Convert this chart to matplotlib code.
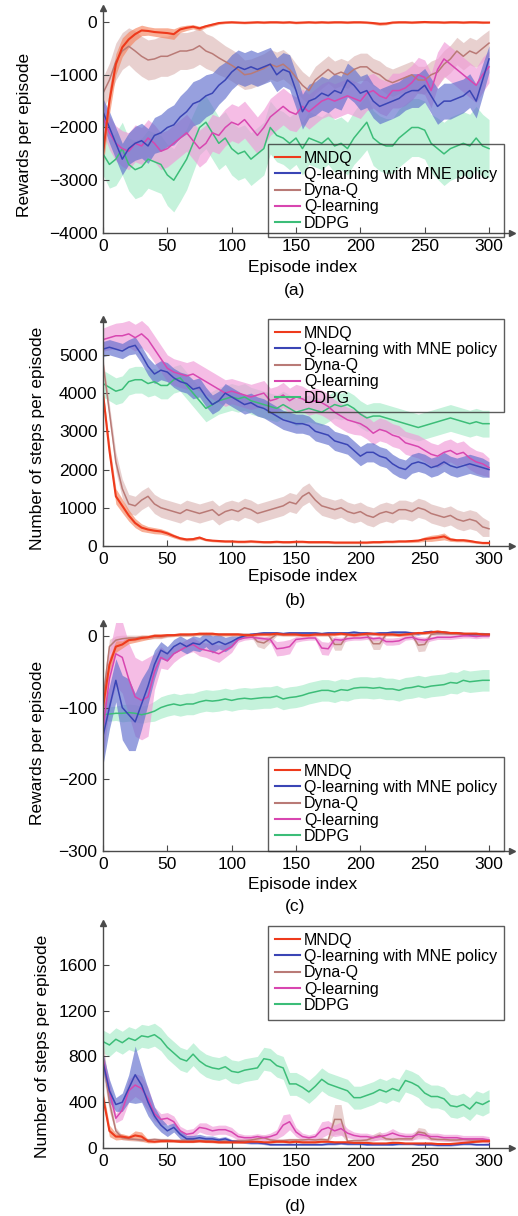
import matplotlib
matplotlib.use('Agg')
import matplotlib.pyplot as plt
import numpy as np

plt.rcParams['font.family'] = ['Liberation Sans', 'DejaVu Sans']

episodes = list(range(0, 301, 5))
labels = ['MNDQ', 'Q-learning with MNE policy', 'Dyna-Q', 'Q-learning', 'DDPG']

# ---- (a) rewards per episode, first task ----
a_mndq = [-2500, -1500, -800, -480, -330, -230, -160, -170, -190, -200,
          -210, -230, -140, -110, -90, -120, -80, -50, -20, -10,
          -5, -10, -15, -10, -5, -10, -5, -5, -10, -5,
          -15, -10, -5, -10, -5, -10, -5, -5, -10, -5,
          -5, -10, -20, -35, -30, -10, -5, -5, -10, -5,
          0, -5, -5, -10, -5, -5, -10, -5, -5, -10,
          -10]
a_mndq_sd = [250, 250, 200, 180, 150, 120, 100, 80, 80, 90,
             100, 100, 60, 50, 40, 40, 30, 30, 25, 20,
             20, 20, 20, 20, 20, 20, 20, 20, 20, 20,
             20, 20, 20, 20, 20, 20, 20, 20, 20, 20,
             20, 20, 25, 30, 25, 20, 20, 20, 20, 20,
             20, 20, 20, 20, 20, 20, 20, 20, 20, 20,
             15]
a_mne = [-1700, -2000, -2300, -2600, -2400, -2300, -2250, -2350, -2150, -2100,
         -2000, -1950, -1800, -1700, -1550, -1500, -1400, -1350, -1200, -1100,
         -950, -850, -900, -850, -900, -850, -800, -1000, -900, -950,
         -1300, -1700, -1500, -1450, -1350, -1400, -1300, -1350, -1100, -1200,
         -1350, -1300, -1500, -1600, -1550, -1500, -1450, -1350, -1300, -1300,
         -1200, -1400, -1600, -1500, -1500, -1450, -1400, -1300, -1500, -1100,
         -700]
a_mne_sd = [250, 300, 300, 300, 300, 320, 330, 330, 340, 350,
            360, 380, 400, 420, 420, 420, 400, 380, 360, 340,
            330, 320, 320, 320, 320, 320, 320, 320, 320, 330,
            330, 330, 320, 320, 320, 320, 320, 320, 320, 320,
            320, 320, 320, 330, 330, 330, 320, 320, 320, 320,
            320, 330, 340, 340, 340, 330, 320, 320, 320, 300,
            250]
a_dyna = [-1350, -1100, -750, -550, -460, -550, -650, -720, -700, -650,
          -650, -600, -550, -550, -520, -450, -550, -600, -680, -750,
          -820, -900, -1000, -980, -930, -880, -800, -850, -800, -900,
          -1050, -1200, -1300, -1100, -1000, -900, -1000, -950, -1000, -900,
          -850, -850, -950, -1000, -1100, -1150, -1100, -1050, -1000, -1100,
          -1100, -1000, -950, -800, -700, -550, -650, -550, -600, -500,
          -400]
a_dyna_sd = [300, 320, 350, 350, 350, 380, 380, 380, 380, 380,
             380, 380, 350, 350, 350, 350, 330, 330, 320, 300,
             300, 300, 280, 280, 280, 280, 280, 280, 280, 280,
             260, 260, 260, 260, 260, 260, 260, 260, 260, 260,
             260, 260, 260, 260, 260, 260, 260, 260, 260, 260,
             260, 260, 260, 260, 260, 260, 260, 260, 260, 260,
             250]
a_ql = [-1800, -2100, -2300, -2400, -2450, -2300, -2350, -2200, -2300, -2450,
        -2400, -2300, -2200, -2100, -2250, -2400, -2300, -2100, -2150, -2000,
        -1900, -1950, -1850, -2000, -2150, -2000, -1800, -1700, -1600, -1700,
        -1750, -1600, -1700, -1600, -1500, -1450, -1500, -1450, -1400, -1450,
        -1500, -1350, -1300, -1400, -1450, -1300, -1300, -1250, -1150, -1000,
        -1050, -1300, -900, -700, -800, -900, -1000, -1100, -1200, -1000,
        -850]
a_ql_sd = [300, 320, 330, 340, 350, 350, 350, 350, 350, 350,
           350, 350, 350, 350, 350, 350, 350, 350, 350, 350,
           350, 350, 350, 350, 350, 350, 350, 350, 350, 350,
           330, 330, 330, 330, 330, 330, 330, 330, 330, 330,
           330, 330, 330, 330, 330, 330, 330, 330, 330, 330,
           330, 330, 330, 330, 330, 330, 330, 330, 330, 330,
           300]
a_ddpg = [-2500, -2700, -2600, -2400, -2700, -2800, -2750, -2600, -2650, -2700,
          -2900, -3000, -2800, -2600, -2300, -2000, -1900, -2100, -2300, -2200,
          -2400, -2500, -2450, -2600, -2500, -2400, -2000, -2150, -2200, -2300,
          -2200, -2400, -2200, -2250, -2300, -2200, -2350, -2300, -2400, -2200,
          -2050, -1900, -2200, -2300, -2350, -2350, -2200, -2100, -2000, -2000,
          -2050, -2300, -2400, -2500, -2400, -2350, -2300, -2350, -2200, -2350,
          -2400]
a_ddpg_sd = [400, 450, 500, 500, 500, 550, 550, 550, 550, 550,
             580, 600, 600, 580, 550, 520, 500, 500, 500, 500,
             500, 500, 500, 500, 500, 500, 500, 500, 500, 500,
             500, 500, 500, 500, 500, 500, 500, 500, 500, 500,
             520, 520, 520, 520, 520, 520, 550, 550, 550, 550,
             550, 550, 580, 600, 600, 600, 600, 600, 600, 600,
             550]

# ---- (b) steps per episode, first task ----
b_mndq = [4000, 2500, 1300, 1050, 800, 600, 480, 430, 400, 380,
          330, 260, 200, 170, 180, 220, 160, 140, 130, 120,
          120, 110, 110, 120, 110, 100, 100, 110, 100, 100,
          110, 110, 100, 100, 100, 100, 90, 90, 90, 90,
          90, 90, 100, 100, 110, 110, 120, 120, 130, 140,
          180, 200, 220, 250, 170, 150, 150, 130, 100, 80,
          80]
b_mndq_sd = [100, 200, 200, 180, 150, 120, 100, 80, 80, 70,
             60, 50, 40, 40, 40, 40, 30, 30, 30, 30,
             30, 30, 30, 30, 30, 30, 30, 30, 30, 30,
             30, 30, 30, 30, 30, 30, 30, 30, 30, 30,
             30, 30, 30, 30, 30, 30, 30, 30, 40, 40,
             60, 80, 80, 90, 50, 40, 40, 40, 30, 30,
             30]
b_mne = [5150, 5200, 5150, 5100, 5200, 5250, 5000, 4700, 4500, 4600,
         4550, 4400, 4300, 4250, 4100, 4150, 3900, 3700, 3800, 4000,
         3900, 3800, 3700, 3750, 3650, 3600, 3500, 3400, 3300, 3250,
         3200, 3200, 3150, 3000, 2950, 2900, 2750, 2700, 2650, 2500,
         2350, 2450, 2450, 2350, 2300, 2150, 2050, 2000, 2150, 2200,
         2150, 2050, 2100, 2200, 2100, 2050, 2100, 2150, 2100, 2050,
         2000]
b_mne_sd = [200, 200, 200, 200, 200, 220, 220, 230, 250, 250,
            250, 250, 250, 250, 250, 250, 250, 250, 250, 250,
            250, 250, 250, 250, 250, 250, 250, 250, 250, 250,
            250, 250, 250, 250, 250, 250, 250, 250, 250, 250,
            250, 250, 250, 250, 250, 250, 250, 250, 250, 250,
            250, 250, 250, 250, 250, 250, 250, 250, 250, 250,
            200]
b_dyna = [4800, 3500, 2200, 1500, 1100, 1050, 1200, 1300, 1100, 1000,
          950, 900, 850, 950, 900, 850, 900, 950, 800, 900,
          950, 900, 1000, 950, 850, 900, 950, 1000, 1050, 1150,
          1100, 1300, 1400, 1200, 1050, 1000, 950, 1000, 900, 850,
          900, 800, 750, 850, 900, 850, 950, 950, 900, 1000,
          950, 850, 800, 750, 800, 700, 650, 700, 650, 500,
          450]
b_dyna_sd = [150, 200, 250, 250, 250, 250, 250, 250, 250, 250,
             250, 250, 250, 250, 250, 250, 250, 250, 250, 250,
             250, 250, 250, 250, 250, 250, 250, 250, 250, 250,
             250, 250, 250, 250, 250, 250, 250, 250, 250, 250,
             250, 250, 250, 250, 250, 250, 250, 250, 250, 250,
             250, 250, 250, 250, 250, 250, 250, 250, 250, 250,
             200]
b_ql = [5400, 5450, 5500, 5500, 5550, 5450, 5550, 5400, 5150, 4900,
        4650, 4550, 4500, 4450, 4500, 4400, 4300, 4200, 4100, 4000,
        4050, 4000, 3950, 3900, 3950, 4000, 3800, 3850, 3950, 3800,
        3900, 3850, 3750, 3800, 3750, 3650, 3500, 3400, 3300, 3250,
        3200, 3100, 2950, 3050, 3000, 2900, 2850, 2700, 2650, 2600,
        2500, 2400, 2350, 2450, 2500, 2400, 2450, 2300, 2200, 2150,
        2050]
b_ql_sd = [300, 320, 330, 350, 350, 350, 350, 350, 350, 350,
           350, 350, 350, 350, 350, 350, 350, 350, 350, 350,
           330, 330, 330, 330, 330, 330, 330, 330, 330, 330,
           330, 330, 330, 330, 330, 330, 330, 330, 330, 330,
           300, 300, 300, 300, 300, 300, 300, 300, 300, 300,
           300, 300, 300, 300, 300, 300, 300, 300, 300, 300,
           250]
b_ddpg = [4250, 4150, 4050, 4100, 4300, 4350, 4350, 4250, 4300, 4200,
          4200, 4350, 4400, 4200, 4000, 3800, 3600, 3700, 3800, 3850,
          3900, 3850, 3900, 3800, 3750, 3700, 3650, 3600, 3700, 3600,
          3500, 3550, 3600, 3550, 3500, 3600, 3700, 3650, 3700, 3600,
          3450, 3350, 3400, 3400, 3350, 3300, 3250, 3200, 3150, 3100,
          3150, 3200, 3250, 3300, 3350, 3300, 3250, 3200, 3250, 3200,
          3200]
b_ddpg_sd = [350, 350, 350, 350, 350, 350, 350, 350, 350, 350,
             350, 350, 350, 350, 350, 350, 350, 350, 350, 350,
             350, 350, 350, 350, 350, 350, 350, 350, 350, 350,
             350, 350, 350, 350, 350, 350, 350, 350, 350, 350,
             350, 350, 350, 350, 350, 350, 350, 350, 350, 350,
             350, 350, 350, 350, 350, 350, 350, 350, 350, 350,
             350]

# ---- (c) rewards per episode, second task ----
c_mndq = [-100, -40, -15, -12, -6, -5, -3, -2, 0, 0,
          1, 1, 2, 2, 2, 3, 3, 3, 2, 2,
          2, 2, 1, 1, 2, 2, 2, 3, 2, 2,
          2, 1, 1, 2, 2, 2, 2, 3, 2, 1,
          2, 3, 3, 2, 2, 2, 1, 2, 3, 4,
          4, 5, 6, 5, 4, 4, 3, 3, 3, 2,
          2]
c_mndq_sd = [15, 10, 8, 5, 5, 4, 4, 3, 3, 3,
             2, 2, 2, 2, 2, 2, 2, 2, 2, 2,
             2, 2, 2, 2, 2, 2, 2, 2, 2, 2,
             2, 2, 2, 2, 2, 2, 2, 2, 2, 2,
             2, 2, 2, 2, 2, 2, 2, 2, 2, 2,
             2, 2, 2, 2, 2, 2, 2, 2, 2, 2,
             2]
c_mne = [-140, -100, -62, -100, -110, -120, -95, -70, -40, -20,
         -25, -15, -10, -15, -10, -12, -5, -12, -8, -12,
         -8, -3, 0, 2, 3, 4, 4, 4, 3, 4,
         4, 4, 4, 4, 3, 4, 4, 4, 4, 5,
         4, 4, 3, 4, 4, 5, 5, 5, 4, 3,
         5, 6, 5, 5, 4, 4, 3, 2, 2, 2,
         2]
c_mne_sd = [40, 30, 30, 45, 50, 40, 35, 25, 20, 12,
            10, 10, 10, 10, 10, 10, 10, 12, 10, 10,
            8, 3, 2, 2, 2, 2, 2, 2, 2, 2,
            2, 2, 2, 2, 2, 2, 2, 2, 2, 2,
            2, 2, 2, 2, 2, 2, 2, 2, 2, 2,
            2, 2, 2, 2, 2, 2, 2, 2, 2, 2,
            2]
c_dyna = [-90, -15, -6, -4, -3, -3, -2, -2, -1, -1,
          0, 1, 1, 1, 2, 2, 2, 2, 2, 2,
          2, 2, 2, 2, -8, -10, -4, 2, 2, 2,
          2, 2, 2, 2, 2, 2, -12, -12, 2, 2,
          2, 2, -11, -11, 2, 2, 2, 2, 2, -13,
          -12, 2, 3, 3, 3, 3, 3, 3, 3, 3,
          2]
c_dyna_sd = [20, 10, 6, 5, 4, 4, 3, 3, 3, 3,
             2, 2, 2, 2, 2, 2, 2, 2, 2, 2,
             2, 2, 2, 2, 7, 8, 5, 2, 2, 2,
             2, 2, 2, 2, 2, 2, 8, 8, 2, 2,
             2, 2, 8, 8, 2, 2, 2, 2, 2, 9,
             9, 2, 2, 2, 2, 2, 2, 2, 2, 2,
             2]
c_ql = [-130, -60, -25, -30, -60, -85, -90, -85, -50, -30,
        -35, -25, -20, -15, -12, -18, -20, -22, -25, -20,
        -15, -5, -3, -2, -3, -4, -5, -18, -17, -15,
        -5, -4, -3, -3, -17, -18, -5, -6, -4, -3,
        -3, -2, -4, -3, -8, -8, -7, -3, -2, -5,
        -6, -4, -2, -2, -2, -1, 0, 0, -1, 0,
        0]
c_ql_sd = [40, 40, 45, 50, 50, 55, 55, 55, 25, 15,
           12, 12, 10, 10, 10, 10, 10, 12, 12, 10,
           8, 4, 3, 3, 3, 3, 4, 10, 10, 10,
           4, 3, 3, 3, 9, 9, 4, 4, 3, 3,
           3, 3, 3, 3, 5, 5, 5, 3, 3, 4,
           4, 3, 3, 3, 3, 3, 3, 3, 3, 3,
           3]
c_ddpg = [-110, -109, -108, -108, -107, -108, -110, -108, -105, -100,
          -97, -95, -97, -95, -95, -92, -90, -91, -90, -88,
          -90, -88, -87, -88, -87, -86, -86, -84, -88, -86,
          -85, -83, -80, -78, -76, -76, -78, -75, -76, -73,
          -72, -72, -73, -72, -74, -74, -76, -73, -72, -70,
          -72, -70, -69, -68, -65, -66, -62, -64, -63, -62,
          -62]
c_ddpg_sd = [8, 10, 10, 12, 12, 12, 12, 12, 14, 15,
             15, 15, 15, 15, 15, 15, 15, 15, 15, 15,
             15, 15, 15, 15, 15, 15, 15, 15, 15, 15,
             15, 15, 15, 15, 15, 15, 15, 15, 15, 15,
             15, 15, 15, 15, 15, 15, 15, 15, 15, 15,
             15, 15, 15, 15, 15, 15, 15, 15, 15, 15,
             15]

# ---- (d) steps per episode, second task ----
d_mndq = [450, 150, 100, 100, 90, 110, 100, 60, 55, 60,
          60, 60, 55, 55, 55, 60, 55, 55, 50, 50,
          50, 50, 50, 55, 55, 50, 50, 55, 55, 50,
          55, 50, 50, 50, 55, 55, 50, 50, 50, 45,
          45, 45, 40, 40, 40, 45, 45, 40, 40, 40,
          40, 40, 35, 35, 35, 40, 45, 50, 55, 60,
          60]
d_mndq_sd = [60, 50, 30, 25, 20, 40, 40, 15, 10, 10,
             8, 8, 8, 8, 8, 8, 8, 8, 8, 8,
             8, 8, 8, 8, 8, 8, 8, 8, 8, 8,
             8, 8, 8, 8, 8, 8, 8, 8, 8, 8,
             8, 8, 8, 8, 8, 8, 8, 8, 8, 8,
             8, 8, 8, 8, 8, 8, 8, 8, 8, 8,
             8]
d_mne = [750, 500, 380, 400, 520, 640, 550, 400, 280, 200,
         150, 180, 120, 80, 80, 90, 80, 80, 70, 80,
         60, 55, 50, 45, 45, 40, 30, 30, 30, 30,
         30, 30, 30, 30, 30, 35, 35, 40, 35, 35,
         35, 30, 30, 30, 30, 30, 35, 35, 35, 30,
         30, 30, 25, 25, 25, 30, 35, 35, 30, 30,
         30]
d_mne_sd = [80, 100, 60, 80, 120, 250, 150, 120, 80, 60,
            50, 40, 40, 30, 30, 30, 25, 25, 20, 20,
            15, 10, 10, 10, 10, 10, 8, 8, 8, 8,
            8, 8, 8, 8, 8, 8, 8, 8, 8, 8,
            8, 8, 8, 8, 8, 8, 8, 8, 8, 8,
            8, 8, 8, 8, 8, 8, 8, 8, 8, 8,
            8]
d_dyna = [800, 400, 150, 90, 80, 75, 70, 70, 75, 70,
          70, 65, 65, 70, 70, 65, 65, 60, 60, 60,
          60, 65, 65, 70, 80, 90, 70, 65, 65, 70,
          70, 70, 75, 70, 75, 70, 250, 250, 60, 65,
          65, 70, 90, 110, 80, 75, 80, 80, 80, 140,
          130, 80, 75, 75, 70, 70, 75, 70, 70, 70,
          70]
d_dyna_sd = [150, 80, 30, 20, 15, 15, 15, 15, 15, 15,
             15, 15, 15, 15, 15, 15, 15, 15, 15, 15,
             15, 15, 15, 15, 20, 25, 15, 15, 15, 15,
             15, 15, 15, 15, 15, 15, 130, 130, 15, 15,
             15, 15, 30, 35, 15, 15, 15, 15, 15, 40,
             40, 15, 15, 15, 15, 15, 15, 15, 15, 15,
             15]
d_ql = [780, 500, 260, 330, 500, 550, 520, 430, 300, 250,
        260, 230, 150, 120, 130, 180, 170, 150, 160, 160,
        140, 100, 90, 90, 100, 90, 100, 120, 200, 230,
        140, 100, 90, 100, 160, 180, 150, 170, 130, 110,
        100, 100, 90, 100, 110, 130, 110, 100, 100, 120,
        110, 100, 100, 90, 90, 90, 80, 80, 80, 80,
        70]
d_ql_sd = [60, 80, 40, 80, 100, 100, 110, 100, 60, 50,
           50, 50, 40, 40, 40, 40, 50, 40, 40, 40,
           40, 30, 25, 25, 25, 25, 30, 40, 90, 70,
           40, 30, 25, 30, 70, 60, 50, 60, 40, 30,
           30, 30, 25, 30, 30, 40, 30, 30, 30, 40,
           30, 30, 30, 30, 30, 30, 30, 30, 30, 30,
           30]
d_ddpg = [930, 900, 950, 920, 960, 940, 980, 970, 990, 950,
          880, 830, 780, 760, 820, 760, 720, 700, 690, 710,
          670, 660, 680, 690, 700, 780, 770, 720, 700, 560,
          560, 530, 490, 540, 600, 560, 540, 520, 500, 440,
          440, 460, 480, 510, 490, 520, 500, 590, 570, 540,
          480, 450, 450, 430, 370, 360, 380, 340, 400, 380,
          410]
d_ddpg_sd = [100, 100, 100, 100, 100, 100, 100, 100, 100, 100,
             100, 100, 100, 100, 100, 100, 100, 100, 100, 100,
             100, 100, 100, 100, 100, 100, 100, 100, 100, 100,
             100, 100, 100, 100, 100, 100, 100, 100, 100, 100,
             100, 100, 100, 100, 100, 100, 100, 100, 100, 100,
             100, 100, 100, 100, 100, 100, 100, 100, 100, 100,
             100]

line_colors = ['#ee3a1c', '#3a45b5', '#b97a76', '#d846b0', '#3cbd78']
band_colors = ['#f5845f', '#5f6ecd', '#dcb8b6', '#f09ad8', '#a6ebc8']

panels = [
    dict(series=[(a_mndq, a_mndq_sd), (a_mne, a_mne_sd), (a_dyna, a_dyna_sd),
                 (a_ql, a_ql_sd), (a_ddpg, a_ddpg_sd)],
         ylabel='Rewards per episode', ylim=(-4000, 265),
         yticks=[-4000, -3000, -2000, -1000, 0], tag='(a)',
         rect=[0.1988, 0.8084, 0.790, 0.185], leg=(0.403, 0.396),
         ylab=(-0.174, 0.436), xlab=-0.12, tagy=290),
    dict(series=[(b_mndq, b_mndq_sd), (b_mne, b_mne_sd), (b_dyna, b_dyna_sd),
                 (b_ql, b_ql_sd), (b_ddpg, b_ddpg_sd)],
         ylabel='Number of steps per episode', ylim=(0, 5940),
         yticks=[0, 1000, 2000, 3000, 4000, 5000], tag='(b)',
         rect=[0.1988, 0.551, 0.790, 0.1867], leg=(0.403, 1.0),
         ylab=(-0.142, 0.474), xlab=-0.10, tagy=600),
    dict(series=[(c_mndq, c_mndq_sd), (c_mne, c_mne_sd), (c_dyna, c_dyna_sd),
                 (c_ql, c_ql_sd), (c_ddpg, c_ddpg_sd)],
         ylabel='Rewards per episode', ylim=(-300, 18),
         yticks=[-300, -200, -100, 0], tag='(c)',
         rect=[0.1988, 0.3002, 0.790, 0.1875], leg=(0.403, 0.412),
         ylab=(-0.142, 0.474), xlab=-0.114, tagy=906),
    dict(series=[(d_mndq, d_mndq_sd), (d_mne, d_mne_sd), (d_dyna, d_dyna_sd),
                 (d_ql, d_ql_sd), (d_ddpg, d_ddpg_sd)],
         ylabel='Number of steps per episode', ylim=(0, 1965),
         yticks=[0, 400, 800, 1200, 1600], tag='(d)',
         rect=[0.1988, 0.0559, 0.790, 0.185], leg=(0.403, 0.987),
         ylab=(-0.130, 0.451), xlab=-0.116, tagy=1206),
]

fig = plt.figure(figsize=(5.18, 12.16), dpi=100)
x = np.array(episodes)
axis_col = '#4a4a4a'

for p in panels:
    ax = fig.add_axes(p['rect'])
    # bands first (DDPG at the back), then lines on top
    for i in [4, 2, 3, 1, 0]:
        m, sd = p['series'][i]
        m = np.array(m, dtype=float)
        sd = np.array(sd, dtype=float)
        ax.fill_between(x, m - sd, m + sd, color=band_colors[i], alpha=0.65,
                        lw=0)
    for i in [4, 2, 3, 1, 0]:
        m, sd = p['series'][i]
        ax.plot(x, m, color=line_colors[i], lw=1.5 if i == 0 else 1.1,
                label=labels[i])

    ax.set_xlim(0, 318)
    ax.set_ylim(*p['ylim'])
    ax.set_xticks([0, 50, 100, 150, 200, 250, 300])
    ax.set_yticks(p['yticks'])
    ax.set_yticklabels([str(v).replace('-', '\u2212') for v in p['yticks']])
    for s in ['top', 'right']:
        ax.spines[s].set_visible(False)
    for s in ['left', 'bottom']:
        ax.spines[s].set_color(axis_col)
        ax.spines[s].set_linewidth(1.0)
    ax.tick_params(direction='in', length=4, width=0.8, color=axis_col,
                   labelsize=12.5, pad=4)
    ax.plot(1, 0, '>', color=axis_col, ms=5, transform=ax.transAxes,
            clip_on=False)
    ax.plot(0, 1, '^', color=axis_col, ms=5, transform=ax.transAxes,
            clip_on=False)

    ax.set_xlabel('Episode index', fontsize=12.5)
    ax.xaxis.set_label_coords(0.487, p['xlab'])
    ax.set_ylabel(p['ylabel'], fontsize=12.5)
    ax.yaxis.set_label_coords(p['ylab'][0], p['ylab'][1])

    h, l = ax.get_legend_handles_labels()
    hmap = dict(zip(l, h))
    leg = ax.legend([hmap[t] for t in labels], labels, loc='upper left',
                    bbox_to_anchor=p['leg'], borderaxespad=0,
                    fontsize=11.5, handlelength=1.6, handletextpad=0.25,
                    labelspacing=0.08, borderpad=0.42, fancybox=False,
                    frameon=True)
    fr = leg.get_frame()
    fr.set_facecolor('none')
    fr.set_edgecolor('#333333')
    fr.set_linewidth(1.0)
    for ln in leg.get_lines():
        ln.set_linewidth(1.5)

    fig.text(295 / 518, 1 - p['tagy'] / 1216, p['tag'], fontsize=12.5,
             ha='center', va='center')

fig.savefig('out.png', dpi=100)
